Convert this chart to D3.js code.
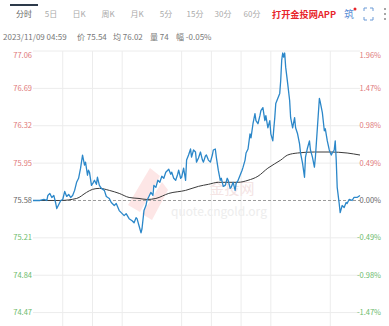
<!DOCTYPE html>
<html lang="zh">
<head>
  <meta charset="utf-8">
  <title>分时</title>
  <script src="https://cdn.jsdelivr.net/npm/d3@7"></script>
  <style>
    body { margin: 0; background: #fff; }
    svg { display: block; font-family: "Noto Sans CJK SC", "Noto Sans", sans-serif; }
  </style>
</head>
<body>
  <script>
    let width = 389, height = 326;
    let margins = { left: 33, right: 29, top: 51, bottom: 13 };

    // tabs and header
    let tabs = ["分时", "5日", "日K", "周K", "月K", "5分", "15分", "30分", "60分"];
    let tabX = [24, 51, 79, 108, 137, 166, 195, 223, 252];
    let infoParts = ["2023/11/09 04:59", "价 75.54", "均 76.02", "量 74", "幅 -0.05%"];
    let infoX = [3, 77, 113, 150, 176];

    // price axis
    let basePrice = 75.58;
    let priceTicks = [77.06, 76.69, 76.32, 75.95, 75.58, 75.21, 74.84, 74.47];
    let pctTicks = ["1.96%", "1.47%", "0.98%", "0.49%", "0.00%", "-0.49%", "-0.98%", "-1.47%"];
    // time axis, minutes from session open
    let sessionMinutes = 1320;
    let timeGrid = [120, 240, 360, 600, 720, 840, 960, 1200];

    // price line (minute, price)
    let times = [0, 12, 28, 44, 56, 60, 68, 76, 84, 92, 96, 104, 112, 120, 128, 136, 144, 152, 160, 168,
      176, 184, 192, 200, 204, 208, 212, 220, 224, 228, 236, 244, 248, 256, 260, 268, 276, 288, 296, 308,
      316, 328, 336, 348, 356, 368, 376, 388, 400, 408, 416, 420, 428, 436, 440, 448, 456, 460, 468, 476,
      484, 488, 496, 504, 512, 520, 528, 536, 548, 556, 560, 568, 576, 584, 588, 596, 600, 608, 616, 620,
      628, 636, 640, 648, 656, 660, 668, 676, 684, 688, 696, 700, 708, 716, 724, 728, 736, 740, 748, 756,
      760, 768, 776, 784, 788, 796, 800, 808, 816, 820, 828, 836, 844, 848, 856, 860, 868, 876, 880, 888,
      896, 900, 908, 916, 920, 928, 936, 940, 948, 956, 960, 968, 972, 976, 980, 988, 996, 1000, 1004, 1008,
      1012, 1016, 1020, 1028, 1036, 1040, 1048, 1056, 1060, 1068, 1076, 1080, 1088, 1096, 1100, 1108, 1116, 1120, 1128, 1136,
      1140, 1148, 1156, 1160, 1168, 1176, 1180, 1188, 1196, 1204, 1208, 1216, 1220, 1224, 1228, 1236, 1240, 1248, 1256, 1264,
      1268, 1276, 1288, 1296, 1308, 1320];
    let prices = [75.58, 75.58, 75.58, 75.59, 75.58, 75.63, 75.65, 75.61, 75.63, 75.55, 75.50, 75.54, 75.58, 75.59, 75.67, 75.62, 75.64, 75.61, 75.63, 75.68,
      75.76, 75.80, 75.90, 76.03, 75.98, 75.93, 75.96, 75.83, 75.88, 75.86, 75.73, 75.76, 75.78, 75.74, 75.81, 75.73, 75.70, 75.68, 75.62, 75.60,
      75.56, 75.53, 75.55, 75.48, 75.46, 75.43, 75.45, 75.40, 75.38, 75.36, 75.41, 75.40, 75.33, 75.26, 75.30, 75.48, 75.53, 75.58, 75.62, 75.66,
      75.63, 75.73, 75.71, 75.78, 75.76, 75.82, 75.80, 75.86, 75.89, 75.84, 75.86, 75.80, 75.78, 75.84, 75.88, 75.80, 75.81, 75.90, 75.78, 75.98,
      76.03, 76.09, 76.01, 76.08, 76.06, 75.96, 76.00, 76.06, 75.98, 75.96, 76.02, 76.03, 75.98, 75.96, 76.03, 76.08, 76.09, 76.01, 75.88, 75.78,
      75.80, 75.72, 75.73, 75.80, 75.78, 75.70, 75.71, 75.76, 75.68, 75.75, 75.78, 75.83, 75.88, 75.91, 75.98, 76.05, 76.09, 76.24, 76.20, 76.34,
      76.44, 76.37, 76.34, 76.42, 76.47, 76.50, 76.37, 76.42, 76.30, 76.37, 76.24, 76.17, 76.29, 76.40, 76.54, 76.59, 76.64, 76.77, 76.97, 77.04,
      77.00, 77.04, 76.90, 76.74, 76.57, 76.40, 76.30, 76.40, 76.30, 76.24, 76.14, 76.05, 75.95, 75.81, 76.01, 76.10, 76.17, 76.08, 76.01, 75.91,
      76.01, 76.30, 76.59, 76.55, 76.45, 76.27, 76.29, 76.17, 76.08, 76.03, 76.05, 76.08, 76.17, 75.98, 75.71, 75.55, 75.46, 75.53, 75.51, 75.56,
      75.55, 75.59, 75.58, 75.61, 75.61, 75.63];

    // average price line
    let avgTimes = [0, 108, 176, 216, 240, 268, 308, 348, 388, 428, 460, 496, 548, 616, 668, 708, 748, 828, 868, 908, 948, 1000, 1028, 1068, 1136, 1200, 1268, 1320];
    let avgPrices = [75.58, 75.58, 75.60, 75.66, 75.69, 75.70, 75.68, 75.65, 75.61, 75.60, 75.59, 75.60, 75.65, 75.68, 75.72, 75.74, 75.76, 75.76, 75.78, 75.82, 75.90, 75.98, 76.03, 76.05, 76.06, 76.06, 76.05, 76.03];

    let svg = d3.select("body").append("svg")
      .attr("width", width)
      .attr("height", height);

    let xScale = d3.scaleLinear()
      .domain([0, sessionMinutes])
      .range([margins.left, width - margins.right]);
    let yScale = d3.scaleLinear()
      .domain([d3.min(priceTicks), d3.max(priceTicks)])
      .range([312.6, margins.top]);

    // header tabs
    svg.append("line")
      .attr("x1", 10).attr("x2", 38).attr("y1", 5).attr("y2", 5)
      .attr("stroke", "#2d3a4a").attr("stroke-width", 2);
    svg.selectAll(".tab").data(tabs).join("text")
      .attr("x", (d, i) => tabX[i])
      .attr("y", 17)
      .attr("text-anchor", "middle")
      .attr("font-size", 8)
      .attr("fill", (d, i) => i == 0 ? "#666" : "#aaa")
      .text(d => d);
    svg.append("text")
      .attr("x", 272).attr("y", 18)
      .attr("font-size", 9.2).attr("font-weight", "bold")
      .attr("fill", "#e8262b")
      .text("打开金投网APP");
    // settings + fullscreen + more icons
    svg.append("text")
      .attr("x", 349).attr("y", 18).attr("text-anchor", "middle")
      .attr("font-size", 10).attr("fill", "#5b8fd6").text("筑");
    svg.append("circle").attr("cx", 355).attr("cy", 9).attr("r", 1.5).attr("fill", "#e8262b");
    svg.append("path")
      .attr("d", "M364,11 v-3 h3 M370,8 h3 v3 M373,17 v3 h-3 M367,20 h-3 v-3")
      .attr("fill", "none").attr("stroke", "#6a9ad6").attr("stroke-width", 1);
    svg.selectAll(".dot").data([9, 14, 19]).join("circle")
      .attr("cx", 385).attr("cy", d => d).attr("r", 1)
      .attr("fill", "#888");

    // info line
    svg.selectAll(".info").data(infoParts).join("text")
      .attr("x", (d, i) => infoX[i]).attr("y", 40)
      .attr("font-size", 8).attr("fill", "#777")
      .text(d => d);

    // grid
    let grid = svg.append("g");
    grid.selectAll(".hgrid").data(priceTicks.filter(d => d != basePrice)).join("line")
      .attr("x1", margins.left).attr("x2", width - margins.right)
      .attr("y1", d => yScale(d)).attr("y2", d => yScale(d))
      .attr("stroke", "#ececec");
    grid.selectAll(".vgrid").data(timeGrid).join("line")
      .attr("x1", d => xScale(d)).attr("x2", d => xScale(d))
      .attr("y1", margins.top).attr("y2", height)
      .attr("stroke", "#ececec");

    // watermark
    let wm = svg.append("g").attr("opacity", 0.12);
    wm.append("path")
      .attr("d", "M128,205 L150,168 L160,176 L140,212 Z M142,214 L162,182 L168,190 L152,220 Z")
      .attr("fill", "#e33");
    svg.append("text")
      .attr("x", 232).attr("y", 194).attr("text-anchor", "middle")
      .attr("font-size", 15).attr("fill", "#f4e4e4")
      .text("金投网");
    svg.append("text")
      .attr("x", 219).attr("y", 216).attr("text-anchor", "middle")
      .attr("font-size", 12).attr("fill", "#ededed")
      .text("quote.cngold.org");

    // base price dashed line
    svg.append("line")
      .attr("x1", margins.left).attr("x2", width - margins.right)
      .attr("y1", yScale(basePrice)).attr("y2", yScale(basePrice))
      .attr("stroke", "#9a9a9a").attr("stroke-dasharray", "3,2");

    // average line
    let avgData = avgTimes.map((t, i) => [t, avgPrices[i]]);
    svg.append("path")
      .datum(avgData)
      .attr("d", d3.line().x(d => xScale(d[0])).y(d => yScale(d[1])).curve(d3.curveMonotoneX))
      .attr("fill", "none").attr("stroke", "#3a3a3a").attr("stroke-width", 1);

    // price line
    let priceData = times.map((t, i) => [t, prices[i]]);
    svg.append("path")
      .datum(priceData)
      .attr("d", d3.line().x(d => xScale(d[0])).y(d => yScale(d[1])))
      .attr("fill", "none").attr("stroke", "#2b87c9").attr("stroke-width", 1.3)
      .attr("stroke-linejoin", "round");

    // axis labels
    let labelColor = d => d > basePrice ? "#e07a7a" : (d < basePrice ? "#6cbb6c" : "#666");
    let labelY = (d, i) => i == 0 ? yScale(d) + 4 : yScale(d);
    svg.selectAll(".ylab").data(priceTicks).join("text")
      .attr("x", 32)
      .attr("y", labelY)
      .attr("dy", "0.35em")
      .attr("text-anchor", "end")
      .attr("font-size", 7.5)
      .attr("fill", labelColor)
      .text(d => d.toFixed(2));
    svg.selectAll(".plab").data(priceTicks).join("text")
      .attr("x", 381)
      .attr("y", labelY)
      .attr("dy", "0.35em")
      .attr("text-anchor", "end")
      .attr("font-size", 7.5)
      .attr("fill", labelColor)
      .text((d, i) => pctTicks[i]);
  </script>
</body>
</html>
